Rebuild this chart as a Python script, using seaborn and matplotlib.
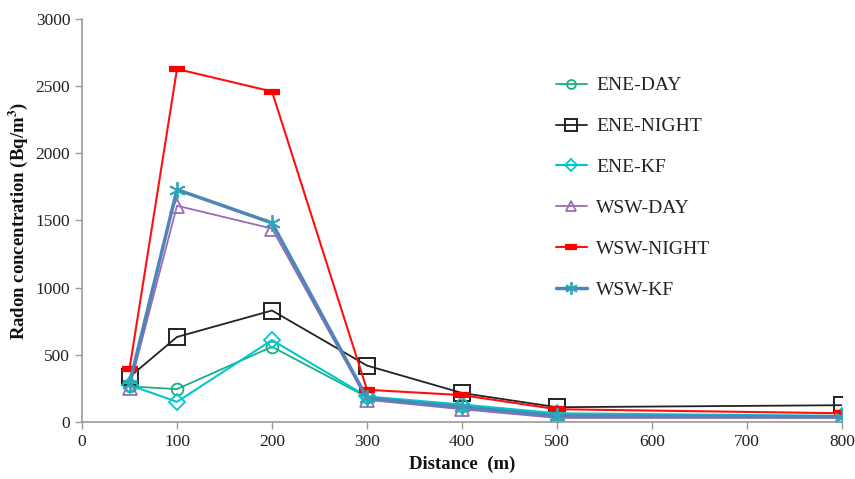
import numpy as np
import pandas as pd
import matplotlib
matplotlib.use("Agg")
import matplotlib.pyplot as plt
import seaborn as sns

distance = [50, 100, 200, 300, 400, 500, 800]
ene_day = [265, 245, 560, 185, 120, 55, 40]
ene_night = [335, 633, 830, 420, 216, 110, 125]
ene_kf = [275, 150, 610, 190, 130, 65, 45]
wsw_day = [255, 1610, 1440, 165, 95, 30, 30]
wsw_night = [395, 2628, 2460, 240, 200, 95, 65]
wsw_kf = [285, 1730, 1482, 178, 110, 45, 40]

series_names = ["ENE-DAY", "ENE-NIGHT", "ENE-KF", "WSW-DAY", "WSW-NIGHT", "WSW-KF"]
series_values = [ene_day, ene_night, ene_kf, wsw_day, wsw_night, wsw_kf]
x_ticks = [0, 100, 200, 300, 400, 500, 600, 700, 800]
y_ticks = [0, 500, 1000, 1500, 2000, 2500, 3000]

sns.set_theme(style="white")
plt.rcParams['font.family'] = ['Liberation Serif', 'DejaVu Serif']
plt.rcParams['mathtext.fontset'] = 'stix'

styles = {
    "ENE-DAY": dict(color="#1aae82", marker="o", ms=8.5, lw=1.3, mec="#1aae82", mfc="none", mew=1.3),
    "ENE-NIGHT": dict(color="#222222", marker="s", ms=11.5, lw=1.3, mec="#222222", mfc="none", mew=1.4),
    "ENE-KF": dict(color="#00c8d0", marker="D", ms=8.5, lw=1.5, mec="#00c8d0", mfc="none", mew=1.3),
    "WSW-DAY": dict(color="#9b6bb8", marker="^", ms=10, lw=1.3, mec="#9b6bb8", mfc="none", mew=1.3),
    "WSW-NIGHT": dict(color="#ff1010", marker="_", ms=11, lw=1.5, mec="#ff0000", mfc="#ff0000", mew=4.5),
    "WSW-KF": dict(color="#4f86b5", marker=(6, 2, 0), ms=12, lw=2.5, mec="#2aa8b8", mfc="none", mew=1.3),
}

rows = []
for name, vals in zip(series_names, series_values):
    for d, v in zip(distance, vals):
        rows.append({"Distance": d, "Radon": v, "Series": name})
df = pd.DataFrame(rows)

fig = plt.figure(figsize=(8.55, 4.79), dpi=100)
ax = fig.add_axes([82/855, 1 - 422/479, 760/855, 403/479])

for name in series_names:
    st = styles[name]
    sub = df[df["Series"] == name]
    sns.lineplot(data=sub, x="Distance", y="Radon", ax=ax, label=name,
                 color=st["color"], marker=st["marker"], markersize=st["ms"],
                 linewidth=st["lw"], markeredgecolor=st["mec"], markerfacecolor=st["mfc"],
                 markeredgewidth=st["mew"], estimator=None, sort=False)

ax.set_xlim(0, 800)
ax.set_ylim(0, 3000)
ax.set_xticks(x_ticks)
ax.set_yticks(y_ticks)
ax.tick_params(axis="both", which="both", direction="out", length=5, width=1,
               color="#999999", labelsize=12.5, labelcolor="#222222", bottom=True, left=True)
for s in ["top", "right"]:
    ax.spines[s].set_visible(False)
for s in ["left", "bottom"]:
    ax.spines[s].set_color("#999999")
    ax.spines[s].set_linewidth(1.2)

ax.set_xlabel("Distance  (m)", fontsize=13.5, fontweight="bold", color="#111111")
ax.set_ylabel("Radon concentration (Bq/m$^\\mathbf{3}$)", fontsize=13.5, fontweight="bold", color="#111111")
ax.grid(False)

leg = ax.legend(loc="upper left", bbox_to_anchor=(0.60, 0.90), frameon=False,
                fontsize=14, labelspacing=1.2, handlelength=1.6, handletextpad=0.5,
                markerscale=0.75)
for t in leg.get_texts():
    t.set_color("#222222")

fig.savefig("out.png", dpi=100)
